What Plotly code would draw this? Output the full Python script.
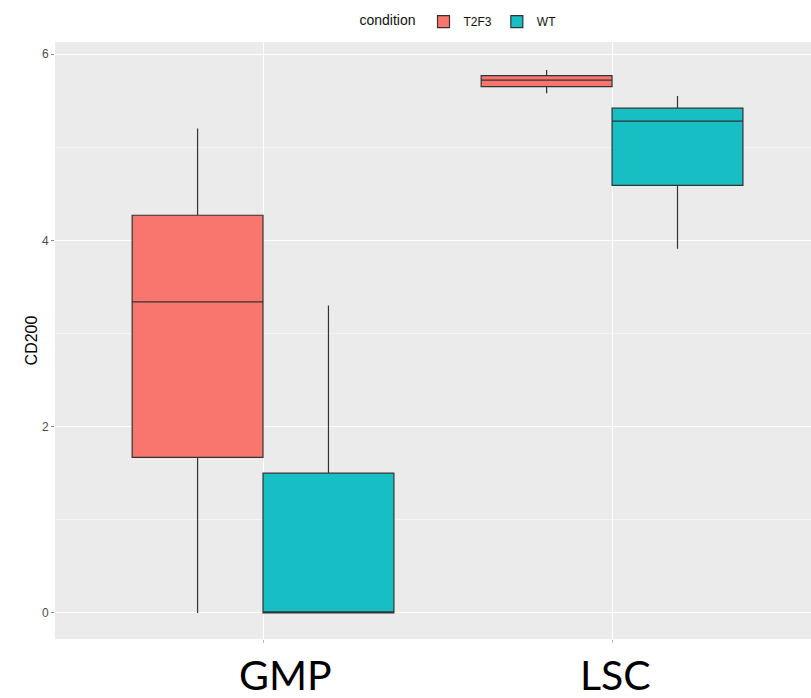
import plotly.graph_objects as go

categories = ["GMP", "LSC"]
series_names = ["T2F3", "WT"]
t2f3_low = [0.0, 5.58]
t2f3_q1 = [1.67, 5.65]
t2f3_med = [3.34, 5.72]
t2f3_q3 = [4.27, 5.77]
t2f3_high = [5.20, 5.83]
wt_low = [0.0, 3.91]
wt_q1 = [0.0, 4.59]
wt_med = [0.0, 5.28]
wt_q3 = [1.50, 5.42]
wt_high = [3.30, 5.55]
colors = ["#F8766D", "#17BEC4"]

fig = go.Figure()
stats = [
    (t2f3_low, t2f3_q1, t2f3_med, t2f3_q3, t2f3_high),
    (wt_low, wt_q1, wt_med, wt_q3, wt_high),
]
for name, col, (lo, q1, md, q3, hi) in zip(series_names, colors, stats):
    fig.add_trace(go.Box(
        name=name, x=categories, lowerfence=lo, q1=q1, median=md, q3=q3,
        upperfence=hi, fillcolor=col, line=dict(color="#333333", width=1.2),
        whiskerwidth=0, boxpoints=False, hoverinfo="skip",
    ))

# large category labels (placed like the reference's overlaid labels)
label_shift = [22, 3]
for cat, sh in zip(categories, label_shift):
    fig.add_annotation(
        x=cat, xref="x", y=-0.104, yref="paper", yanchor="bottom",
        text=cat, showarrow=False, xshift=sh,
        font=dict(family="Lato, Liberation Sans", size=41, color="black"),
    )

fig.update_layout(
    width=811, height=698,
    margin=dict(l=55, r=0, t=42, b=59),
    paper_bgcolor="white", plot_bgcolor="#EBEBEB",
    boxmode="group", boxgap=0.25, boxgroupgap=0,
    font=dict(family="Liberation Sans, Arial", size=13, color="#4D4D4D"),
    legend=dict(
        orientation="h", x=0.535, xanchor="center", y=1.01, yanchor="bottom",
        title=dict(text="condition", font=dict(color="#111111", size=14)),
        font=dict(size=12, color="#111111"), itemwidth=30,
    ),
    showlegend=True,
)
fig.update_xaxes(
    type="category", range=[-0.596, 1.57], showgrid=True, gridcolor="white",
    gridwidth=1.2, ticks="outside", ticklen=3, tickcolor="#BBBBBB",
    showticklabels=False, zeroline=False, automargin=False,
)
fig.update_yaxes(
    range=[-0.28, 6.13], tickvals=[0, 2, 4, 6], showgrid=True, gridcolor="white",
    gridwidth=1.2, ticks="outside", ticklen=3, tickcolor="#888888",
    tickfont=dict(size=12, color="#4D4D4D"), zeroline=False, automargin=False,
    minor=dict(tickvals=[1, 3, 5], showgrid=True, gridcolor="#F5F5F5", gridwidth=0.6),
    title=dict(text="CD200", font=dict(size=16, color="black"), standoff=0),
)
fig.write_html(
    "out.html",
    config={"displayModeBar": False},
    post_script="document.body.style.margin='0';document.body.style.overflow='hidden';",
)
